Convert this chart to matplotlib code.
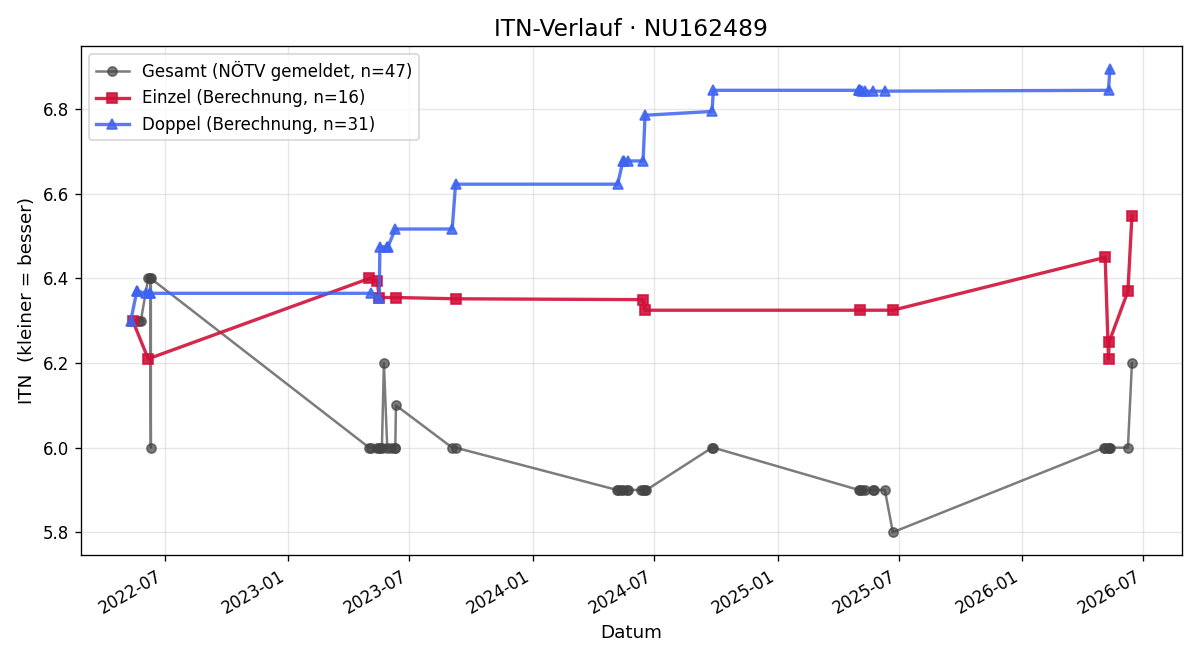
import matplotlib
matplotlib.use("Agg")
from matplotlib import pyplot as plt
import matplotlib.dates as mdates
import pandas as pd

# Gesamt (NÖTV gemeldet)
gesamt_dates = [
    "2022-05-24", "2022-05-26", "2022-06-06", "2022-06-09", "2022-06-10", "2022-06-10",
    "2023-05-02", "2023-05-04", "2023-05-14", "2023-05-17", "2023-05-18", "2023-05-21",
    "2023-05-24", "2023-05-29", "2023-06-04", "2023-06-09", "2023-06-10", "2023-06-11",
    "2023-09-03", "2023-09-08",
    "2024-05-06", "2024-05-07", "2024-05-12", "2024-05-15", "2024-05-21", "2024-05-22",
    "2024-06-11", "2024-06-14", "2024-06-17", "2024-06-19",
    "2024-09-25", "2024-09-27",
    "2025-05-02", "2025-05-04", "2025-05-07", "2025-05-12", "2025-05-24", "2025-05-25",
    "2025-06-10", "2025-06-22",
    "2026-05-04", "2026-05-05", "2026-05-10", "2026-05-11", "2026-05-12", "2026-06-08",
    "2026-06-14",
]
gesamt_itn = [
    6.3, 6.3, 6.4, 6.4, 6.0, 6.4,
    6.0, 6.0, 6.0, 6.0, 6.0, 6.0,
    6.2, 6.0, 6.0, 6.0, 6.0, 6.1,
    6.0, 6.0,
    5.9, 5.9, 5.9, 5.9, 5.9, 5.9,
    5.9, 5.9, 5.9, 5.9,
    6.0, 6.0,
    5.9, 5.9, 5.9, 5.9, 5.9, 5.9,
    5.9, 5.8,
    6.0, 6.0, 6.0, 6.0, 6.0, 6.0,
    6.2,
]

# Einzel (Berechnung)
einzel_dates = [
    "2022-05-14", "2022-06-06", "2023-05-02", "2023-05-14", "2023-05-17", "2023-06-11",
    "2023-09-08", "2024-06-14", "2024-06-17", "2025-05-04", "2025-06-22", "2026-05-05",
    "2026-05-10", "2026-05-11", "2026-06-08", "2026-06-14",
]
einzel_itn = [
    6.30, 6.21, 6.40, 6.395, 6.355, 6.355,
    6.352, 6.35, 6.325, 6.325, 6.325, 6.45,
    6.21, 6.25, 6.37, 6.548,
]

# Doppel (Berechnung)
doppel_dates = [
    "2022-05-11", "2022-05-20", "2022-05-21", "2022-06-03", "2022-06-09", "2022-06-09",
    "2023-05-04", "2023-05-17", "2023-05-18", "2023-05-29", "2023-05-30", "2023-06-10",
    "2023-09-03", "2023-09-08",
    "2024-05-07", "2024-05-15", "2024-05-16", "2024-05-22", "2024-06-14", "2024-06-17",
    "2024-09-25", "2024-09-27",
    "2025-05-02", "2025-05-03", "2025-05-04", "2025-05-07", "2025-05-12", "2025-05-24",
    "2025-06-10",
    "2026-05-10", "2026-05-12",
]
doppel_itn = [
    6.30, 6.37, 6.37, 6.365, 6.365, 6.365,
    6.365, 6.355, 6.475, 6.475, 6.475, 6.517,
    6.517, 6.623,
    6.623, 6.678, 6.678, 6.678, 6.678, 6.786,
    6.795, 6.845,
    6.845, 6.845, 6.845, 6.843, 6.843, 6.843,
    6.843,
    6.845, 6.895,
]


def plot_itn():
    fig, ax = plt.subplots(figsize=(10, 5.5), dpi=120)

    ax.plot(pd.to_datetime(gesamt_dates), gesamt_itn, marker='o', color='#444444',
            alpha=0.7, lw=1.5, ms=5.5, label=f'Gesamt (NÖTV gemeldet, n={len(gesamt_itn)})')
    ax.plot(pd.to_datetime(einzel_dates), einzel_itn, marker='s', color='#d0103a',
            alpha=0.9, lw=2, ms=6.5, label=f'Einzel (Berechnung, n={len(einzel_itn)})')
    ax.plot(pd.to_datetime(doppel_dates), doppel_itn, marker='^', color='#3d63f0',
            alpha=0.85, lw=2, ms=6.5, label=f'Doppel (Berechnung, n={len(doppel_itn)})')

    ax.set_title('ITN-Verlauf · NU162489', fontsize=14)
    ax.set_xlabel('Datum', fontsize=11)
    ax.set_ylabel('ITN  (kleiner = besser)', fontsize=11)
    ax.xaxis.set_major_locator(mdates.MonthLocator(bymonth=[1, 7]))
    ax.xaxis.set_major_formatter(mdates.DateFormatter('%Y-%m'))
    ax.grid(True, alpha=0.3)
    ax.legend(loc='upper left')
    fig.autofmt_xdate()
    fig.tight_layout()
    fig.savefig('out.png')


if __name__ == '__main__':
    plot_itn()
